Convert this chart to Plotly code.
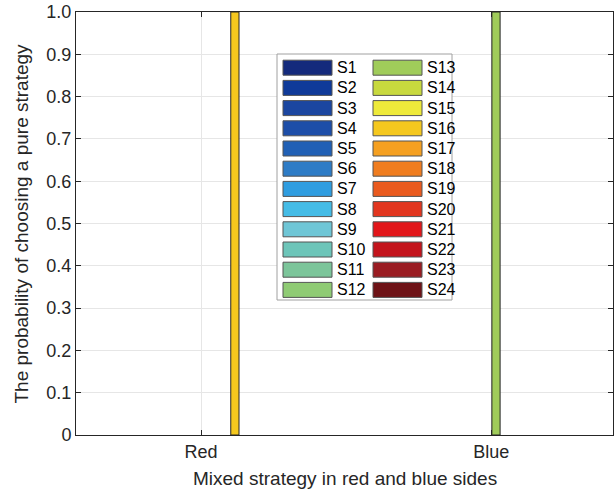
import plotly.graph_objects as go

# ---------------- data ----------------
categories = ["Red", "Blue"]
category_pos = [1, 2]
series_names = ["S1", "S2", "S3", "S4", "S5", "S6", "S7", "S8", "S9", "S10", "S11", "S12",
                "S13", "S14", "S15", "S16", "S17", "S18", "S19", "S20", "S21", "S22", "S23", "S24"]
red_values = [0, 0, 0, 0, 0, 0, 0, 0, 0, 0, 0, 0,
              0, 0, 0, 1, 0, 0, 0, 0, 0, 0, 0, 0]
blue_values = [0, 0, 0, 0, 0, 0, 0, 0, 0, 0, 0, 0,
               1, 0, 0, 0, 0, 0, 0, 0, 0, 0, 0, 0]
series_colors = ["#142a7c", "#0f3a99", "#1b46a0", "#1d4ea8", "#2160b5", "#2e7cc6",
                 "#2f9de0", "#45bce6", "#6fc6d6", "#6dc5b9", "#7cc59a", "#8fcb74",
                 "#a0cc5a", "#c8d93e", "#eeea3a", "#f5c81e", "#f5a021", "#f07d1f",
                 "#ea5a1e", "#e2361f", "#e2161a", "#c3141c", "#9a1c22", "#6e1216"]
y_tick_vals = [0, 0.1, 0.2, 0.3, 0.4, 0.5, 0.6, 0.7, 0.8, 0.9, 1.0]
y_tick_text = ["0", "0.1", "0.2", "0.3", "0.4", "0.5", "0.6", "0.7", "0.8", "0.9", "1.0"]
x_title = "Mixed strategy in red and blue sides"
y_title = "The probability of choosing a pure strategy"

FONT = "Liberation Sans, Arial, sans-serif"
AX = "#262626"

fig = go.Figure()
for name, col, r, b in zip(series_names, series_colors, red_values, blue_values):
    fig.add_trace(go.Bar(
        x=category_pos, y=[r if r else None, b if b else None], name=name,
        marker=dict(color=col, line=dict(color="#262626", width=1)),
        showlegend=False,
    ))

# ---------------- layout helpers ----------------
W, H = 614, 492
L, R, T, B = 76, 1, 12, 57
pw, ph = W - L - R, H - T - B


def px(x):
    return (x - L) / pw


def py(y):
    return (H - B - y) / ph


# ---------------- manual legend (two columns) ----------------
shapes = [dict(type="rect", xref="paper", yref="paper",
               x0=px(277), x1=px(452), y0=py(300), y1=py(54),
               fillcolor="white", line=dict(color="#a0a0a0", width=1), layer="above")]
annotations = []
rows = 12
for i, (name, col) in enumerate(zip(series_names, series_colors)):
    c, r = divmod(i, rows)
    yc = 67.7 + 20.2 * r
    sx0 = 283 + 90 * c
    shapes.append(dict(type="rect", xref="paper", yref="paper",
                       x0=px(sx0), x1=px(sx0 + 49), y0=py(yc + 7.5), y1=py(yc - 7.5),
                       fillcolor=col, line=dict(color="#555555", width=1), layer="above"))
    annotations.append(dict(xref="paper", yref="paper", x=px(sx0 + 52), y=py(yc),
                            text=name, showarrow=False, xanchor="left", yanchor="middle",
                            font=dict(family=FONT, size=16, color="#000000")))

# axis titles
annotations.append(dict(xref="paper", yref="paper", x=px(344.5), y=py(478),
                        text=x_title, showarrow=False, xanchor="center", yanchor="middle",
                        font=dict(family=FONT, size=19, color=AX)))
annotations.append(dict(xref="paper", yref="paper", x=px(21), y=py(223.5),
                        text=y_title, showarrow=False, xanchor="center", yanchor="middle",
                        textangle=-90, font=dict(family=FONT, size=19, color=AX)))

fig.update_layout(
    width=W, height=H,
    margin=dict(l=L, r=R, t=T, b=B, pad=0, autoexpand=False),
    paper_bgcolor="white", plot_bgcolor="white",
    barmode="group", bargap=0.2, bargroupgap=0.15,
    font=dict(family=FONT, size=18, color=AX),
    shapes=shapes, annotations=annotations,
    showlegend=False,
)
fig.update_xaxes(
    range=[0.569, 2.42], tickvals=category_pos, ticktext=categories,
    showline=True, linecolor=AX, linewidth=1, mirror="allticks",
    ticks="inside", ticklen=5, tickcolor=AX, automargin=False,
    showgrid=True, gridcolor="#e6e6e6", zeroline=False,
    tickfont=dict(size=18, color=AX),
)
fig.update_yaxes(
    range=[0, 1], tickvals=y_tick_vals, ticktext=y_tick_text,
    showline=True, linecolor=AX, linewidth=1, mirror="allticks",
    ticks="inside", ticklen=5, tickcolor=AX, automargin=False,
    showgrid=True, gridcolor="#e6e6e6", zeroline=False,
    tickfont=dict(size=18, color=AX),
)

fig.write_html("out.html",
               config={"displayModeBar": False, "staticPlot": True},
               post_script="document.body.style.margin='0';document.body.style.overflow='hidden';")
